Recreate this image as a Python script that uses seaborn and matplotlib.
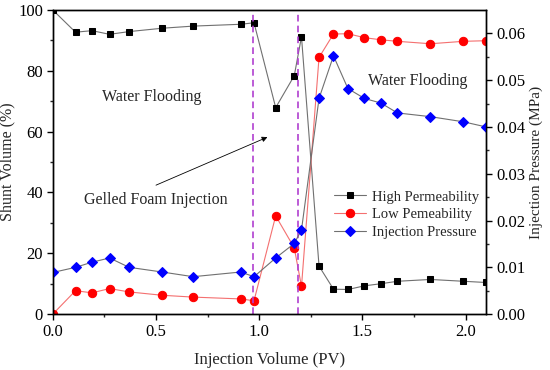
import matplotlib
matplotlib.use("Agg")
import matplotlib.pyplot as plt
import seaborn as sns

# 주입량 (PV)
pv = [0.0, 0.11, 0.19, 0.275, 0.37, 0.53, 0.68, 0.91, 0.975, 1.08, 1.17, 1.205,
      1.29, 1.36, 1.43, 1.51, 1.59, 1.67, 1.83, 1.99, 2.1]
# 고투과층 분류량 (%)
high_perm = [100, 92.7, 93.2, 92.0, 92.9, 94.0, 94.7, 95.3, 95.8, 67.9, 78.4, 91.2,
             15.8, 8.2, 8.1, 9.3, 10.0, 10.8, 11.4, 10.8, 10.4]
# 저투과층 분류량 (%)
low_perm = [0, 7.7, 7.0, 8.4, 7.3, 6.2, 5.6, 5.0, 4.4, 32.3, 21.8, 9.1,
            84.4, 92.1, 92.2, 90.9, 90.2, 89.7, 88.9, 89.7, 89.9]
# 주입 압력 (MPa)
pressure = [0.0089, 0.0100, 0.0111, 0.0120, 0.0100, 0.0090, 0.0080, 0.0090, 0.0080,
            0.0120, 0.0151, 0.0180, 0.0461, 0.0552, 0.0482, 0.0461, 0.0451, 0.0430,
            0.0422, 0.0411, 0.0400]
stage_bounds = [0.97, 1.19]

sns.set_style("ticks")
plt.rcParams['font.family'] = ['Liberation Serif', 'DejaVu Serif']
plt.rcParams['xtick.direction'] = 'out'
plt.rcParams['ytick.direction'] = 'out'

fig = plt.figure(figsize=(5.5, 3.7), dpi=100)
ax = fig.add_axes([0.096, 0.151, 0.788, 0.822])
ax2 = ax.twinx()

sns.lineplot(x=pv, y=high_perm, ax=ax, estimator=None, color='#707070', lw=0.8,
             marker='s', markersize=5, markerfacecolor='black', markeredgecolor='black',
             label='High Permeability', legend=False)
sns.lineplot(x=pv, y=low_perm, ax=ax, estimator=None, color='#f47070', lw=0.8,
             marker='o', markersize=6, markerfacecolor='red', markeredgecolor='red',
             label='Low Pemeability', legend=False)
sns.lineplot(x=pv, y=pressure, ax=ax2, estimator=None, color='#707070', lw=0.8,
             marker='D', markersize=5.5, markerfacecolor='blue', markeredgecolor='blue',
             label='Injection Pressure', legend=False)

for b in stage_bounds:
    ax.axvline(b, color='#b040d0', ls=(0, (4, 2.5)), lw=1.2)

ax.set_xlim(0, 2.1)
ax.set_ylim(0, 100)
ax2.set_ylim(0, 0.065)
ax.set_xticks([0.0, 0.5, 1.0, 1.5, 2.0])
ax.set_xticks([0.25, 0.75, 1.25, 1.75], minor=True)
ax.set_yticks([0, 20, 40, 60, 80, 100])
ax.set_yticks([10, 30, 50, 70, 90], minor=True)
ax2.set_yticks([0.0, 0.01, 0.02, 0.03, 0.04, 0.05, 0.06])
ax2.set_yticks([0.005, 0.015, 0.025, 0.035, 0.045, 0.055], minor=True)
ax2.yaxis.set_major_formatter(matplotlib.ticker.FormatStrFormatter('%.2f'))
ax.xaxis.set_major_formatter(matplotlib.ticker.FormatStrFormatter('%.1f'))

for a in (ax, ax2):
    a.tick_params(which='major', length=4, width=1, labelsize=12, colors='black', pad=3)
    a.tick_params(which='minor', length=2.5, width=1)
    for s in a.spines.values():
        s.set_linewidth(1.0)
        s.set_color('black')

ax.set_xlabel('Injection Volume (PV)', fontsize=12, labelpad=9)
ax.set_ylabel('Shunt Volume (%)', fontsize=11.5, labelpad=2)
ax2.set_ylabel('Injection Pressure (MPa)', fontsize=11, labelpad=3)

ax.text(0.48, 71.4, 'Water Flooding', fontsize=11.5, ha='center', va='center')
ax.text(1.77, 76.6, 'Water Flooding', fontsize=11.5, ha='center', va='center')
ax.text(0.5, 37.5, 'Gelled Foam Injection', fontsize=11.5, ha='center', va='center')
ax.annotate('', xy=(1.04, 58.2), xytext=(0.5, 42.4),
            arrowprops=dict(arrowstyle='-|>', color='black', lw=0.6,
                            mutation_scale=8, shrinkA=0, shrinkB=0))

h1, l1 = ax.get_legend_handles_labels()
h2, l2 = ax2.get_legend_handles_labels()
ax.legend(h1 + h2, l1 + l2, loc='upper left', bbox_to_anchor=(0.618, 0.45),
          frameon=False, fontsize=10.5, handlelength=2.2, labelspacing=0.3,
          handletextpad=0.4)

fig.savefig('out.png', dpi=100)
